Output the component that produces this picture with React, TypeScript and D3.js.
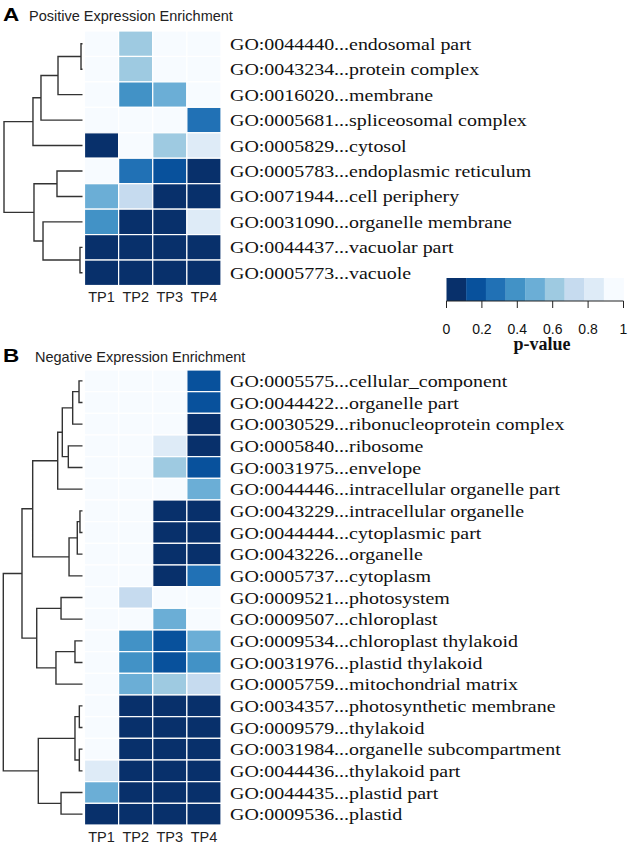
import React from 'react';
import * as d3 from 'd3';

const timepoints = ['TP1', 'TP2', 'TP3', 'TP4'];

const posLabels = [
  'GO:0044440...endosomal part',
  'GO:0043234...protein complex',
  'GO:0016020...membrane',
  'GO:0005681...spliceosomal complex',
  'GO:0005829...cytosol',
  'GO:0005783...endoplasmic reticulum',
  'GO:0071944...cell periphery',
  'GO:0031090...organelle membrane',
  'GO:0044437...vacuolar part',
  'GO:0005773...vacuole',
];
const posValues = [
  [0.95, 0.6, 0.95, 0.95],
  [0.95, 0.6, 0.95, 0.95],
  [0.95, 0.4, 0.5, 0.95],
  [0.95, 0.95, 0.95, 0.3],
  [0.02, 0.95, 0.6, 0.8],
  [0.95, 0.3, 0.15, 0.02],
  [0.5, 0.72, 0.02, 0.02],
  [0.4, 0.02, 0.02, 0.8],
  [0.02, 0.02, 0.02, 0.02],
  [0.02, 0.02, 0.02, 0.02],
];
const posMerges = [[-1, -2], [1, -3], [2, -4], [3, -5], [-6, -7], [-9, -10], [-8, 6], [5, 7], [4, 8]];
const posHeights = [0.019, 0.312, 0.529, 0.631, 0.325, 0.032, 0.503, 0.618, 1.0];

const negLabels = [
  'GO:0005575...cellular_component',
  'GO:0044422...organelle part',
  'GO:0030529...ribonucleoprotein complex',
  'GO:0005840...ribosome',
  'GO:0031975...envelope',
  'GO:0044446...intracellular organelle part',
  'GO:0043229...intracellular organelle',
  'GO:0044444...cytoplasmic part',
  'GO:0043226...organelle',
  'GO:0005737...cytoplasm',
  'GO:0009521...photosystem',
  'GO:0009507...chloroplast',
  'GO:0009534...chloroplast thylakoid',
  'GO:0031976...plastid thylakoid',
  'GO:0005759...mitochondrial matrix',
  'GO:0034357...photosynthetic membrane',
  'GO:0009579...thylakoid',
  'GO:0031984...organelle subcompartment',
  'GO:0044436...thylakoid part',
  'GO:0044435...plastid part',
  'GO:0009536...plastid',
];
const negValues = [
  [0.95, 0.95, 0.95, 0.15],
  [0.95, 0.95, 0.95, 0.15],
  [0.95, 0.95, 0.95, 0.02],
  [0.95, 0.95, 0.8, 0.02],
  [0.95, 0.95, 0.6, 0.15],
  [0.95, 0.95, 0.95, 0.5],
  [0.95, 0.95, 0.02, 0.02],
  [0.95, 0.95, 0.02, 0.02],
  [0.95, 0.95, 0.02, 0.02],
  [0.95, 0.95, 0.02, 0.28],
  [0.95, 0.72, 0.95, 0.95],
  [0.95, 0.95, 0.5, 0.95],
  [0.95, 0.39, 0.15, 0.5],
  [0.95, 0.39, 0.15, 0.39],
  [0.95, 0.5, 0.6, 0.72],
  [0.95, 0.02, 0.02, 0.02],
  [0.95, 0.02, 0.02, 0.02],
  [0.95, 0.02, 0.02, 0.02],
  [0.8, 0.02, 0.02, 0.02],
  [0.5, 0.02, 0.02, 0.02],
  [0.02, 0.02, 0.02, 0.02],
];
const negMerges = [
  [-1, -2], [1, -3], [-4, -5], [2, 3], [4, -6],
  [-7, -8], [6, -9], [7, -10], [5, 8],
  [-11, -12], [-13, -14], [11, -15], [10, 12], [9, 13],
  [-16, -17], [-18, -19], [15, 16], [-20, -21], [17, 18], [14, 19],
];
const negHeights = [
  0.044, 0.124, 0.179, 0.255, 0.313,
  0.032, 0.066, 0.170, 0.629,
  0.271, 0.095, 0.335, 0.578, 0.764,
  0.040, 0.040, 0.095, 0.271, 0.558, 1.0,
];

const legendTicks = [0, 0.2, 0.4, 0.6, 0.8, 1];
const palette = (d3.schemeBlues[9] as readonly string[]).slice().reverse();

const color = d3.scaleQuantize<string>().domain([0, 1]).range(palette);

type PanelProps = {
  letter: string;
  title: string;
  titleX: number;
  titleY: number;
  labels: string[];
  values: number[][];
  merges: number[][];
  heights: number[];
  top: number;
  bottom: number;
  dendroLeft: number;
};

const SERIF = '"Liberation Serif", "Times New Roman", serif';
const SANS = '"Liberation Sans", Arial, Helvetica, sans-serif';

function Panel(p: PanelProps) {
  const x = d3.scaleBand<string>().domain(timepoints).range([84.5, 221]);
  const y = d3.scaleBand<number>().domain(p.labels.map((_, i) => i)).range([p.top, p.bottom]);
  const hx = d3.scaleLinear().domain([0, 1]).range([82.5, p.dendroLeft]);

  const nodes: { x: number; y: number }[] = [];
  const get = (k: number) => (k < 0 ? { x: hx(0), y: (y(-k - 1) as number) + y.bandwidth() / 2 } : nodes[k - 1]);
  const path = d3.path();
  p.merges.forEach(([a, b], i) => {
    const A = get(a);
    const B = get(b);
    const px = hx(p.heights[i]);
    const py = (A.y + B.y) / 2;
    nodes.push({ x: px, y: py });
    path.moveTo(A.x, A.y);
    path.lineTo(px, A.y);
    path.lineTo(px, B.y);
    path.lineTo(B.x, B.y);
  });

  return (
    <g>
      <text x={3} y={p.titleY + 0.5} fontFamily={SANS} fontWeight="bold" fontSize={18} transform={`translate(3,0) scale(1.25,1) translate(-3,0)`}>
        {p.letter}
      </text>
      <text x={p.titleX} y={p.titleY} fontFamily={SANS} fontSize={14.5} fill="#222">
        {p.title}
      </text>
      <path d={path.toString()} fill="none" stroke="#333" strokeWidth={1.4} />
      {p.values.map((row, i) =>
        row.map((v, j) => (
          <rect
            key={`${i}-${j}`}
            x={x(timepoints[j])}
            y={y(i)}
            width={x.bandwidth()}
            height={y.bandwidth()}
            fill={color(v)}
            stroke="#fff"
            strokeWidth={1.2}
          />
        ))
      )}
      {p.labels.map((l, i) => {
        const yy = (y(i) as number) + y.bandwidth() / 2 + 6;
        return (
          <text
            key={l}
            transform={`translate(230,${yy}) scale(1.14,1)`}
            fontFamily={SERIF}
            fontSize={17.5}
            fill="#111"
          >
            {l}
          </text>
        );
      })}
      {timepoints.map((t) => (
        <text
          key={t}
          x={(x(t) as number) + x.bandwidth() / 2}
          y={p.bottom + 16.5}
          textAnchor="middle"
          fontFamily={SANS}
          fontSize={14.5}
          fill="#222"
        >
          {t}
        </text>
      ))}
    </g>
  );
}

function Legend() {
  const lx = d3.scaleLinear().domain([0, 1]).range([446.5, 623.5]);
  const top = 278;
  const bot = 301;
  const n = palette.length;
  return (
    <g>
      {palette.map((c, i) => (
        <rect key={c} x={lx(i / n)} y={top} width={lx((i + 1) / n) - lx(i / n) + 0.3} height={bot - top} fill={c} />
      ))}
      <line x1={lx(0)} x2={lx(1)} y1={bot} y2={bot} stroke="#222" strokeWidth={1} />
      {legendTicks.map((t) => (
        <g key={t}>
          <line x1={lx(t)} x2={lx(t)} y1={bot} y2={bot + 7} stroke="#222" strokeWidth={1} />
          <text x={lx(t)} y={333.5} textAnchor="middle" fontFamily={SANS} fontSize={14} fill="#111">
            {d3.format('')(t)}
          </text>
        </g>
      ))}
      <text x={542} y={350} textAnchor="middle" fontFamily={SERIF} fontWeight="bold" fontSize={18} fill="#111">
        p-value
      </text>
    </g>
  );
}

export default function App() {
  return (
    <svg width={630} height={851} style={{ position: 'absolute', left: 0, top: 0, background: '#fff' }}>
      <rect width={630} height={851} fill="#fff" />
      <Panel
        letter="A"
        title="Positive Expression Enrichment"
        titleX={29}
        titleY={21}
        labels={posLabels}
        values={posValues}
        merges={posMerges}
        heights={posHeights}
        top={31}
        bottom={285.5}
        dendroLeft={4}
      />
      <Panel
        letter="B"
        title="Negative Expression Enrichment"
        titleX={35}
        titleY={361.5}
        labels={negLabels}
        values={negValues}
        merges={negMerges}
        heights={negHeights}
        top={370}
        bottom={825}
        dendroLeft={3.3}
      />
      <Legend />
    </svg>
  );
}
